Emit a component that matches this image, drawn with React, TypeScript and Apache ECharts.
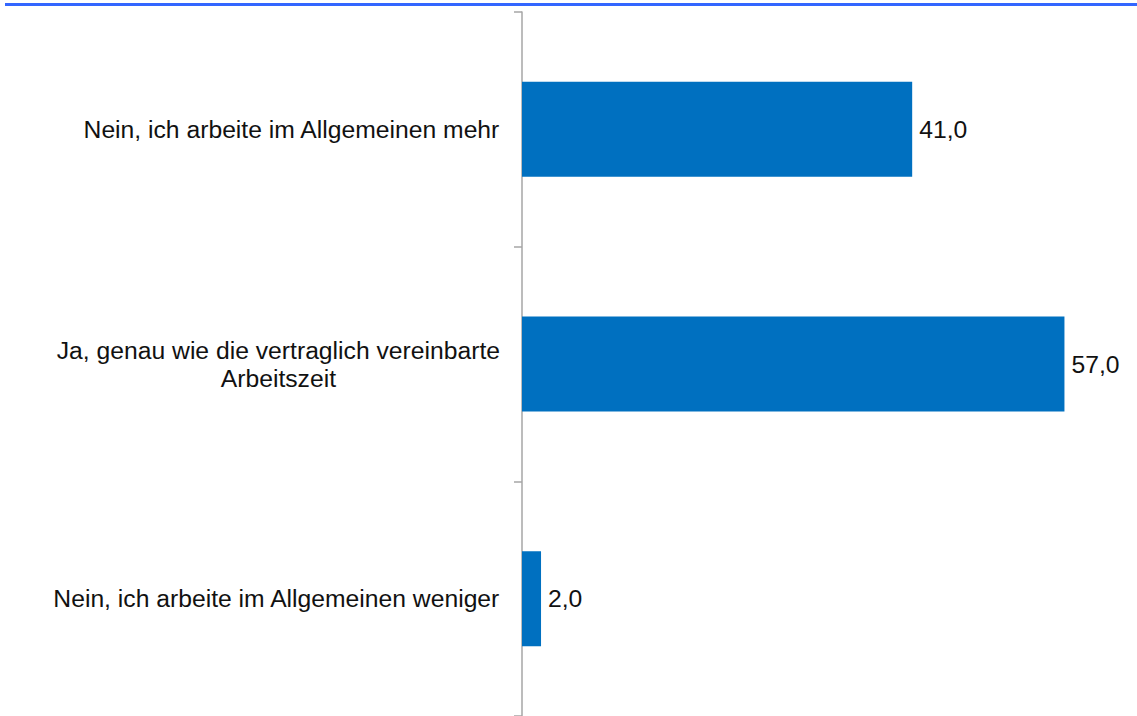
import React, { useEffect, useRef } from "react";
import * as echarts from "echarts";

const categories = [
  "Nein, ich arbeite im Allgemeinen mehr",
  "Ja, genau wie die vertraglich vereinbarte\nArbeitszeit",
  "Nein, ich arbeite im Allgemeinen weniger",
];
const values = [41.0, 57.0, 2.0];

export default function App() {
  const ref = useRef<HTMLDivElement>(null);
  useEffect(() => {
    if (!ref.current) return;
    const chart = echarts.init(ref.current, null, { renderer: "svg" });
    const font = "'Liberation Sans', Arial, sans-serif";
    const fs = 24.7;
    chart.setOption({
      animation: false,
      backgroundColor: "#ffffff",
      graphic: [
        {
          type: "rect",
          shape: { x: 5, y: 3, width: 1132, height: 3 },
          style: { fill: "#3366ff" },
          silent: true,
        },
      ],
      grid: { left: 522, right: 44, top: 12, height: 708, containLabel: false },
      xAxis: {
        type: "value",
        min: 0,
        max: 60,
        show: false,
      },
      yAxis: {
        type: "category",
        inverse: true,
        data: categories,
        axisLine: { show: true, lineStyle: { color: "#a6a6a6", width: 1.5 } },
        axisTick: { show: true, length: 8, lineStyle: { color: "#a6a6a6", width: 1.5 } },
        axisLabel: {
          margin: 22,
          fontFamily: font,
          fontSize: fs,
          color: "#111111",
          lineHeight: 28,
          formatter: (v: string) =>
            v
              .split("\n")
              .map((l) => "{a|" + l + "}")
              .join("\n"),
          rich: {
            a: {
              fontFamily: font,
              fontSize: fs,
              color: "#111111",
              lineHeight: 28,
              align: "center",
            },
          },
        },
        splitLine: { show: false },
      },
      series: [
        {
          type: "bar",
          data: values,
          barWidth: 95,
          itemStyle: { color: "#0070c0" },
          label: {
            show: true,
            position: "right",
            distance: 7,
            fontFamily: font,
            fontSize: fs,
            color: "#111111",
            formatter: (p: any) => p.value.toFixed(1).replace(".", ","),
          },
        },
      ],
    });
    return () => chart.dispose();
  }, []);
  return (
    <div
      ref={ref}
      style={{ position: "fixed", left: 0, top: 0, width: 1137, height: 716 }}
    />
  );
}
